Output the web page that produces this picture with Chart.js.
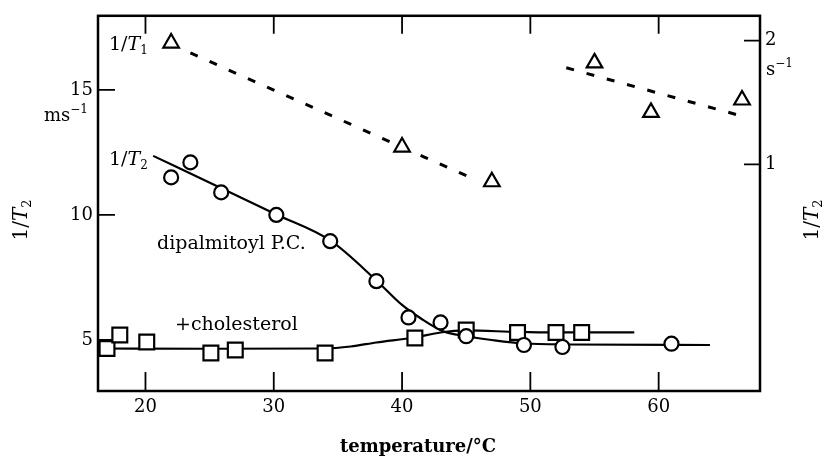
<!DOCTYPE html>
<html>
<head>
<meta charset="utf-8">
<script src="https://cdn.jsdelivr.net/npm/chart.js@4"></script>
<style>
  body { margin: 0; background: #fff; }
</style>
</head>
<body>
<canvas id="chart" width="824" height="459"></canvas>
<script>
// 1/T2 (ms^-1) - dipalmitoyl P.C. (circles)
const circleTemp = [22, 23.5, 25.9, 30.2, 34.4, 38, 40.5, 43, 45, 49.5, 52.5, 61];
const circleRate = [11.5, 12.1, 10.9, 10.0, 8.95, 7.35, 5.9, 5.7, 5.15, 4.8, 4.72, 4.85];
// 1/T2 (ms^-1) - + cholesterol (squares)
const squareTemp = [17, 18, 20.1, 25.1, 27, 34, 41, 45, 49, 52, 54];
const squareRate = [4.66, 5.2, 4.92, 4.48, 4.6, 4.48, 5.08, 5.4, 5.3, 5.3, 5.3];
// 1/T1 (s^-1) - triangles, right axis
const triTemp = [22, 40, 47, 55, 59.4, 66.5];
const triRate = [1.98, 1.14, 0.86, 1.82, 1.42, 1.52];

// hand drawn curves
const circleCurveTemp = [20.6, 26, 30.2, 34.4, 38, 40, 41.5, 43.2, 45, 47, 49.5, 53, 64];
const circleCurveRate = [12.36, 11.05, 10.02, 8.98, 7.38, 6.4, 5.85, 5.35, 5.15, 5.0, 4.86, 4.82, 4.8];
const squareCurveTemp = [16.3, 25, 34, 36, 38, 41, 43, 45, 49, 52, 58.1];
const squareCurveRate = [4.66, 4.65, 4.66, 4.74, 4.9, 5.1, 5.3, 5.38, 5.32, 5.3, 5.3];
const dashATemp = [23.5, 45.3];
const dashARate = [1.90, 0.895];
const dashBTemp = [52.8, 66.5];
const dashBRate = [1.78, 1.39];

const xTicks = [20, 30, 40, 50, 60];
const yTicks = [5, 10, 15];
const y2Ticks = [1, 2];

const FONT = "'DejaVu Serif', 'Liberation Serif', serif";
const INK = '#000';

function pts(xs, ys) {
    return xs.map((x, i) => ({ x: x, y: ys[i] }));
}

// draws 1/T with a subscript, starting at x (left) on baseline y
function drawRateLabel(ctx, x, y, sub, size) {
    ctx.textBaseline = 'alphabetic';
    ctx.textAlign = 'left';
    ctx.font = size + 'px ' + FONT;
    ctx.fillText('1/', x, y);
    x += ctx.measureText('1/').width;
    ctx.font = 'italic ' + size + 'px ' + FONT;
    ctx.fillText('T', x, y);
    x += ctx.measureText('T').width;
    ctx.font = Math.round(size * 0.65) + 'px ' + FONT;
    ctx.fillText(sub, x, y + 4);
}
function rateLabelWidth(ctx, sub, size) {
    ctx.font = size + 'px ' + FONT;
    let w = ctx.measureText('1/').width;
    ctx.font = 'italic ' + size + 'px ' + FONT;
    w += ctx.measureText('T').width;
    ctx.font = Math.round(size * 0.65) + 'px ' + FONT;
    return w + ctx.measureText(sub).width;
}
function drawUnit(ctx, x, y, base, size) {
    ctx.textAlign = 'left';
    ctx.textBaseline = 'alphabetic';
    ctx.font = size + 'px ' + FONT;
    ctx.fillText(base, x, y);
    const w = ctx.measureText(base).width;
    ctx.font = Math.round(size * 0.65) + 'px ' + FONT;
    ctx.fillText('\u22121', x + w, y - 8);
}

const framePlugin = {
    id: 'frame',
    beforeDatasetsDraw(chart) {
        const { ctx, chartArea: a, scales } = chart;
        ctx.save();
        ctx.strokeStyle = INK;
        ctx.lineWidth = 2.5;
        ctx.strokeRect(a.left, a.top, a.right - a.left, a.bottom - a.top);
        ctx.lineWidth = 1.8;
        ctx.beginPath();
        xTicks.forEach(v => {
            const px = scales.x.getPixelForValue(v);
            ctx.moveTo(px, a.bottom); ctx.lineTo(px, a.bottom - 19);
            ctx.moveTo(px, a.top); ctx.lineTo(px, a.top + 18);
        });
        yTicks.forEach(v => {
            const py = scales.y.getPixelForValue(v);
            ctx.moveTo(a.left, py); ctx.lineTo(a.left + 17, py);
        });
        y2Ticks.forEach(v => {
            const py = scales.y2.getPixelForValue(v);
            ctx.moveTo(a.right, py); ctx.lineTo(a.right - 16, py);
        });
        ctx.stroke();
        ctx.restore();
    },
    afterDraw(chart) {
        const { ctx } = chart;
        ctx.save();
        ctx.fillStyle = INK;
        drawRateLabel(ctx, 109, 50, '1', 19);
        drawRateLabel(ctx, 109, 165, '2', 19);
        drawUnit(ctx, 44, 121, 'ms', 18);
        drawUnit(ctx, 766, 75, 's', 18);

        ctx.font = '19px ' + FONT;
        ctx.textAlign = 'left';
        ctx.fillText('dipalmitoyl P.C.', 157, 249);
        ctx.fillText('+cholesterol', 175, 330);

        ctx.font = 'bold 18px ' + FONT;
        ctx.textAlign = 'center';
        ctx.fillText('temperature/\u00b0C', 418, 452);

        // vertical axis titles
        [[21, 220], [812, 220]].forEach(([cx, cy]) => {
            ctx.save();
            ctx.translate(cx, cy);
            ctx.rotate(-Math.PI / 2);
            const w = rateLabelWidth(ctx, '2', 20);
            drawRateLabel(ctx, -w / 2, 6, '2', 20);
            ctx.restore();
        });
        ctx.restore();
    }
};

Chart.defaults.font.family = FONT;
Chart.defaults.font.size = 18;
Chart.defaults.color = INK;

const markerBase = {
    showLine: false,
    borderColor: INK,
    backgroundColor: '#fff',
    pointBorderWidth: 2.2,
    order: 0
};
const curveBase = {
    borderColor: INK,
    borderWidth: 2.2,
    pointRadius: 0,
    cubicInterpolationMode: 'monotone',
    order: 1
};

new Chart(document.getElementById('chart').getContext('2d'), {
    type: 'line',
    data: {
        datasets: [
            Object.assign({ data: pts(circleCurveTemp, circleCurveRate), yAxisID: 'y' }, curveBase),
            Object.assign({ data: pts(squareCurveTemp, squareCurveRate), yAxisID: 'y' }, curveBase),
            Object.assign({}, curveBase, { data: pts(dashATemp, dashARate), yAxisID: 'y2', borderDash: [8, 13], borderWidth: 3 }),
            Object.assign({}, curveBase, { data: pts(dashBTemp, dashBRate), yAxisID: 'y2', borderDash: [8, 13], borderWidth: 3 }),
            Object.assign({ data: pts(circleTemp, circleRate), yAxisID: 'y', pointStyle: 'circle', pointRadius: 7 }, markerBase),
            Object.assign({ data: pts(squareTemp, squareRate), yAxisID: 'y', pointStyle: 'rect', pointRadius: 10.5 }, markerBase),
            Object.assign({ data: pts(triTemp, triRate), yAxisID: 'y2', pointStyle: 'triangle', pointRadius: 9 }, markerBase)
        ]
    },
    options: {
        responsive: false,
        animation: false,
        layout: { padding: { top: 15 } },
        plugins: { legend: { display: false }, tooltip: { enabled: false } },
        scales: {
            x: {
                type: 'linear',
                min: 16.3,
                max: 67.9,
                grid: { display: false, drawTicks: false },
                border: { display: false },
                afterBuildTicks: s => { s.ticks = xTicks.map(v => ({ value: v })); },
                afterFit: s => { s.height = 68; },
                ticks: { padding: 6 }
            },
            y: {
                type: 'linear',
                position: 'left',
                min: 2.96,
                max: 17.96,
                grid: { display: false, drawTicks: false },
                border: { display: false },
                afterBuildTicks: s => { s.ticks = yTicks.map(v => ({ value: v })); },
                afterFit: s => { s.width = 98; },
                ticks: { padding: 5 }
            },
            y2: {
                type: 'linear',
                position: 'right',
                min: -0.83,
                max: 2.2,
                grid: { display: false, drawTicks: false },
                border: { display: false },
                afterBuildTicks: s => { s.ticks = y2Ticks.map(v => ({ value: v })); },
                afterFit: s => { s.width = 64; },
                ticks: { padding: 5 }
            }
        }
    },
    plugins: [framePlugin]
});
</script>
</body>
</html>
